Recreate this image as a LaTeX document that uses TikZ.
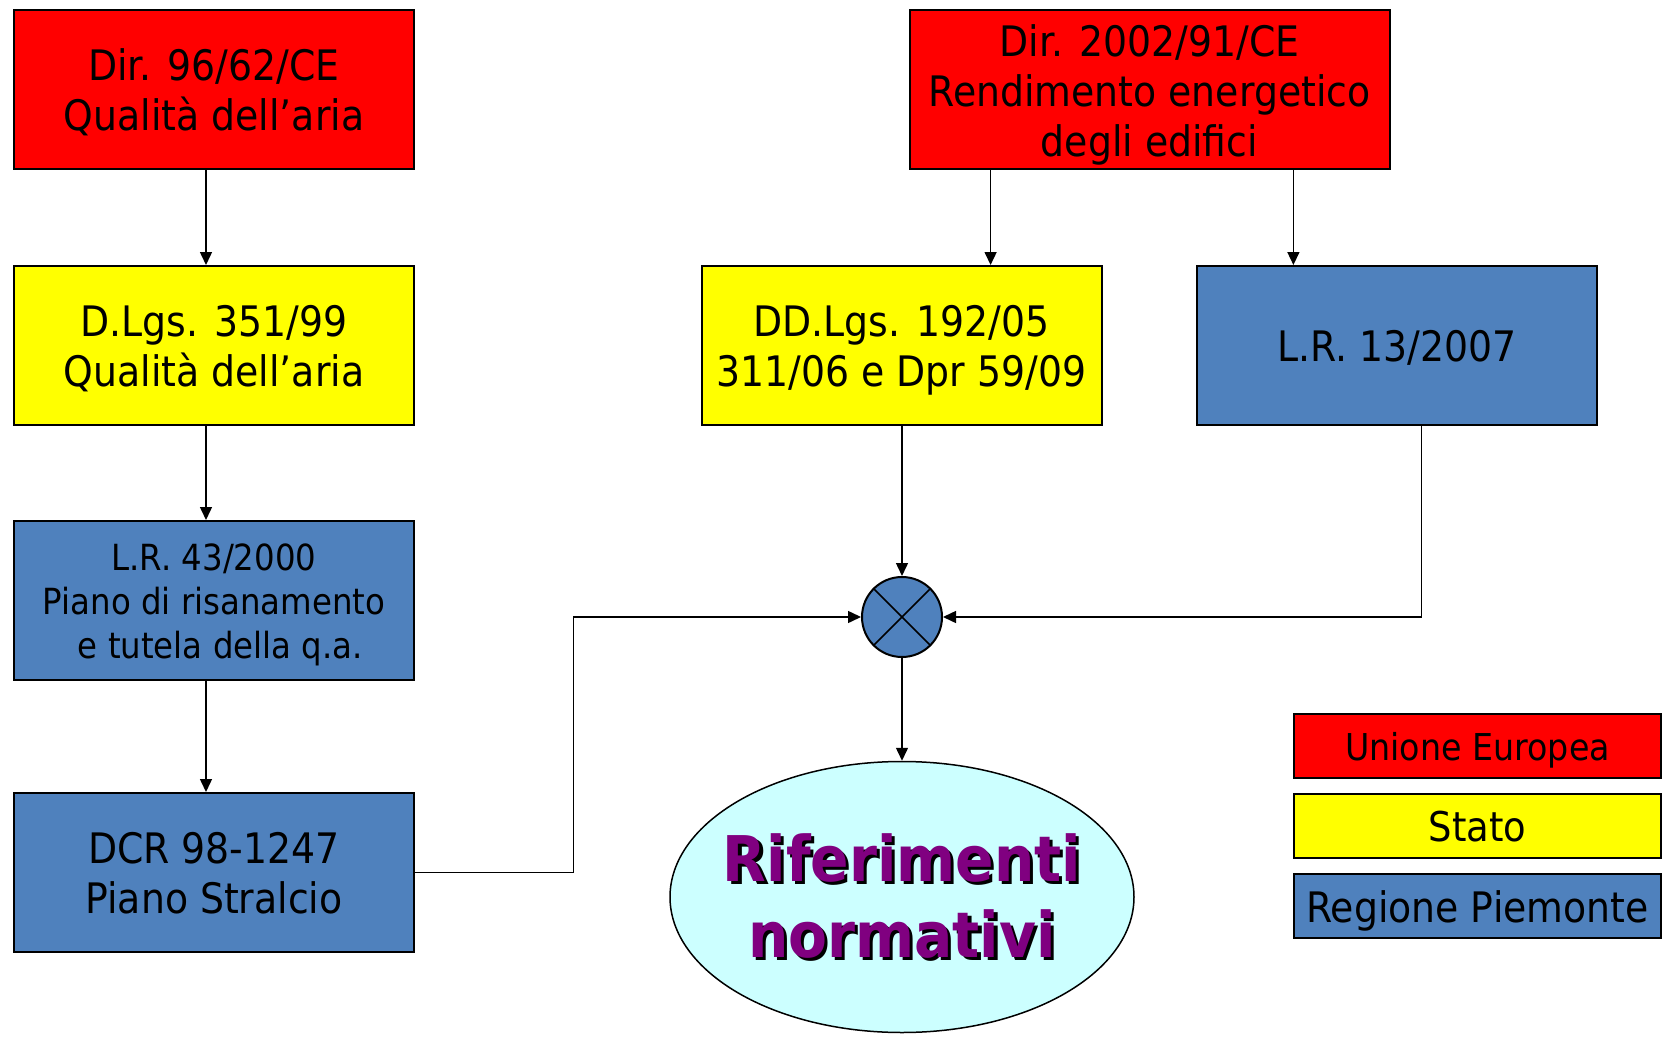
\documentclass[tikz,border=0pt]{standalone}
\usepackage{fontspec}
\setmainfont{DejaVu Sans}[FakeStretch=0.9]
\usetikzlibrary{arrows.meta,shapes.geometric}
\definecolor{eured}{HTML}{FF0000}
\definecolor{statoyel}{HTML}{FFFF00}
\definecolor{regblue}{HTML}{4F81BD}
\definecolor{ellcyan}{HTML}{CCFFFF}
\definecolor{titlepurple}{HTML}{800080}
\tikzset{
  box/.style={draw=black, line width=1pt, rectangle, minimum width=200pt, minimum height=79.5pt,
    align=center, inner sep=2pt, text depth=-0.5pt, font=\fontsize{21pt}{25pt}\selectfont},
  one/.style={text height=16pt},
  two/.style={text height=41pt},
  three/.style={text height=66pt},
  eubox/.style={box, fill=eured},
  stbox/.style={box, fill=statoyel},
  rgbox/.style={box, fill=regblue},
  legbox/.style={draw=black, line width=1pt, rectangle, minimum width=183.5pt, minimum height=32pt, inner sep=1pt},
  arr/.style={line width=0.75pt, -{Triangle[length=6.5pt,width=6pt]}},
  plain/.style={line width=0.75pt},
  titletext/.style={align=center, text height=60.5pt, text depth=-4.5pt, font=\fontsize{31.5pt}{38pt}\selectfont\bfseries},
}
\begin{document}
\begin{tikzpicture}[x=0.5pt,y=-0.5pt]
\useasboundingbox (0,0) rectangle (1672,1038);
% left column
\node[eubox, two] (dir96) at (214,90) {Dir. 96/62/CE\\Qualità dell’aria};
\node[stbox, two] (dlgs) at (214,345.5) {D.Lgs. 351/99\\Qualità dell’aria};
\node[rgbox, font=\fontsize{18pt}{22.15pt}\selectfont, text height=58.3pt, text depth=-1.5pt] (lr43) at (214,600.5) {L.R. 43/2000\\Piano di risanamento\\\hspace*{0.35em}e tutela della q.a.};
\node[rgbox, two] (dcr) at (214,872.5) {DCR 98-1247\\Piano Stralcio};
% right column
\node[eubox, three, minimum width=240pt] (dir02) at (1149.5,90) {Dir. 2002/91/CE\\Rendimento energetico\\degli edifici};
\node[stbox, two] (ddlgs) at (901.5,345.5) {DD.Lgs. 192/05\\311/06 e Dpr 59/09};
\node[rgbox, one] (lr13) at (1397.4,345.5) {L.R. 13/2007};
% junction
\node[draw=black, line width=1pt, circle, fill=regblue, minimum size=40pt, inner sep=0pt] (circ) at (902,617) {};
\draw[plain] (circ.north west) -- (circ.south east);
\draw[plain] (circ.north east) -- (circ.south west);
% ellipse
\node[draw=black, line width=0.75pt, ellipse, fill=ellcyan, minimum width=232pt, minimum height=135.5pt, inner sep=0pt] (ell) at (902,897) {};
\node[titletext, text=black] (titleshadow) at ([shift={(1.6pt,-1.6pt)}]ell.center) {Riferimenti\\normativi};
\node[titletext, text=titlepurple] (title) at (ell.center) {Riferimenti\\normativi};
% legend
\node[legbox, fill=eured, font=\fontsize{18.5pt}{22pt}\selectfont, text height=14pt, text depth=-0.7pt] (legeu) at (1477.5,746) {Unione Europea};
\node[legbox, fill=statoyel, font=\fontsize{20.5pt}{24pt}\selectfont, text height=15pt, text depth=-0.7pt] (legst) at (1477.5,826) {Stato};
\node[legbox, fill=regblue, font=\fontsize{21pt}{24pt}\selectfont, text height=16pt, text depth=-0.5pt] (legrg) at (1477.5,906) {Regione Piemonte};
% helper coordinates
\coordinate (xa) at (206,0);
\coordinate (xb) at (990.6,0);
\coordinate (xc) at (1293.4,0);
\coordinate (xd) at (1421.4,0);
\coordinate (xe) at (573.7,0);
% connectors
\draw[arr] (dir96.south -| xa) -- (dlgs.north -| xa);
\draw[arr] (dlgs.south -| xa) -- (lr43.north -| xa);
\draw[arr] (lr43.south -| xa) -- (dcr.north -| xa);
\draw[arr] (dir02.south -| xb) -- (ddlgs.north -| xb);
\draw[arr] (dir02.south -| xc) -- (lr13.north -| xc);
\draw[arr] (ddlgs.south -| circ.north) -- (circ.north);
\draw[arr] (lr13.south -| xd) |- (circ.east);
\draw[arr] (dcr.east) -- (dcr.east -| xe) |- (circ.west);
\draw[arr] (circ.south) -- (ell.north);
\end{tikzpicture}
\end{document}
